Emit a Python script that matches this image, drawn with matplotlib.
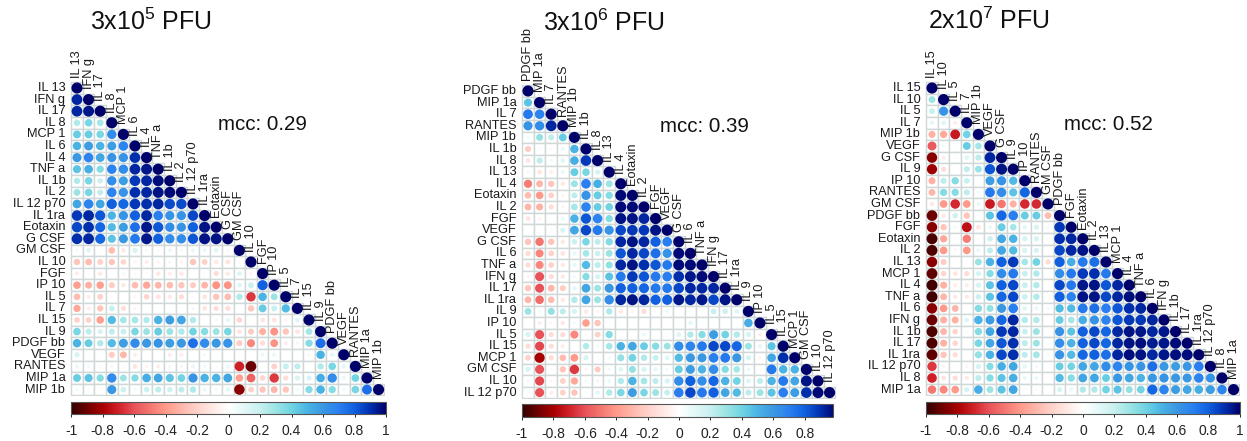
import matplotlib
matplotlib.use("Agg")
import numpy as np
import matplotlib.pyplot as plt
from matplotlib.collections import EllipseCollection, PatchCollection
from matplotlib.colors import LinearSegmentedColormap, Normalize
from matplotlib.cm import ScalarMappable
from matplotlib.patches import Rectangle

plt.rcParams['font.family'] = ['Liberation Sans', 'DejaVu Sans']
plt.rcParams['mathtext.fontset'] = 'custom'
plt.rcParams['mathtext.rm'] = 'Liberation Sans'
plt.rcParams['mathtext.default'] = 'regular'
plt.rcParams['axes.unicode_minus'] = False

titles = ["3x10$^{5}$ PFU", "3x10$^{6}$ PFU", "2x10$^{7}$ PFU"]
mcc_labels = ["mcc: 0.29", "mcc: 0.39", "mcc: 0.52"]

labels_a = ["IL 13", "IFN g", "IL 17", "IL 8", "MCP 1", "IL 6", "IL 4", "TNF a", "IL 1b", "IL 2",
            "IL 12 p70", "IL 1ra", "Eotaxin", "G CSF", "GM CSF", "IL 10", "FGF", "IP 10", "IL 5",
            "IL 7", "IL 15", "IL 9", "PDGF bb", "VEGF", "RANTES", "MIP 1a", "MIP 1b"]
labels_b = ["PDGF bb", "MIP 1a", "IL 7", "RANTES", "MIP 1b", "IL 1b", "IL 8", "IL 13", "IL 4",
            "Eotaxin", "IL 2", "FGF", "VEGF", "G CSF", "IL 6", "TNF a", "IFN g", "IL 17", "IL 1ra",
            "IL 9", "IP 10", "IL 5", "IL 15", "MCP 1", "GM CSF", "IL 10", "IL 12 p70"]
labels_c = ["IL 15", "IL 10", "IL 5", "IL 7", "MIP 1b", "VEGF", "G CSF", "IL 9", "IP 10", "RANTES",
            "GM CSF", "PDGF bb", "FGF", "Eotaxin", "IL 2", "IL 13", "MCP 1", "IL 4", "TNF a", "IL 6",
            "IFN g", "IL 1b", "IL 17", "IL 1ra", "IL 12 p70", "IL 8", "MIP 1a"]

# correlation x 100, lower triangle, row by row
corr_a = [
 [100],
 [92,100],
 [92,95,100],
 [25,38,28,100],
 [42,42,38,65,100],
 [50,58,50,58,68,100],
 [60,68,55,62,62,90,100],
 [45,52,35,68,65,92,95,100],
 [25,38,18,65,58,88,92,97,100],
 [30,38,22,68,62,90,92,96,98,100],
 [55,68,55,80,78,88,90,92,84,84,100],
 [88,92,82,50,62,80,92,70,62,62,85,100],
 [85,90,78,48,58,75,95,82,65,62,80,96,100],
 [90,92,78,45,60,72,95,80,65,65,82,96,96,100],
 [5,12,3,-28,-10,15,5,3,8,5,8,8,12,5,100],
 [-25,-28,-20,-25,-18,-5,-8,-5,-5,-5,-25,-20,-10,-12,-3,100],
 [-8,3,-10,2,5,3,-3,-10,-8,-10,0,3,-15,-10,12,-5,100],
 [-38,-32,-38,-22,-10,-28,-35,-30,-28,-25,-22,-30,-42,-42,12,20,80,100],
 [-28,-8,-20,-2,0,-5,-18,-12,-10,-15,-2,-12,-25,-28,25,-65,50,30,100],
 [-35,-8,-25,20,-15,-5,0,0,0,0,5,-12,-15,-15,0,-25,42,20,48,100],
 [-20,-20,-38,48,28,28,25,50,58,55,25,2,5,10,-18,0,-12,-12,-5,12,100],
 [38,22,15,22,20,38,30,42,30,25,40,35,30,38,-12,-22,-32,-42,-25,-12,28,100],
 [50,42,25,48,58,65,60,62,58,60,75,65,60,62,-22,-45,-15,-42,-8,-5,35,75,100],
 [15,3,0,-22,-30,-8,0,0,-8,-8,0,5,3,0,3,0,8,8,0,0,-5,50,10,100],
 [8,5,3,5,3,-12,-5,-8,-5,-5,8,5,3,8,-70,-90,3,-20,20,22,0,25,38,10,100],
 [42,45,35,65,30,35,52,55,45,40,62,50,50,55,-38,-55,-18,-65,-15,15,15,52,65,8,40,100],
 [5,2,2,60,18,5,18,22,18,22,25,8,5,10,-85,-20,-25,-30,-25,5,35,50,35,5,38,75,100],
]
corr_b = [
 [100],
 [45,100],
 [72,68,100],
 [62,65,92,100],
 [5,32,22,42,100],
 [-22,3,-3,8,50,100],
 [-12,22,5,12,52,88,100],
 [5,-12,-8,8,42,38,15,100],
 [-48,-30,-25,-10,30,70,52,30,100],
 [-28,-40,-20,-5,22,62,42,35,98,100],
 [-30,-32,-15,-5,28,68,42,40,98,98,100],
 [-12,-5,0,8,50,82,68,35,96,96,92,100],
 [0,0,3,15,55,85,72,62,85,88,88,96,100],
 [-25,-50,-25,-10,18,38,22,35,92,96,92,80,70,100],
 [-15,-45,-20,-12,8,28,18,30,82,92,85,75,62,98,100],
 [-15,-45,-20,-10,10,48,22,32,92,96,90,82,72,98,98,100],
 [-5,-60,-15,-10,5,35,15,45,72,88,82,72,70,90,95,98,100],
 [-25,-60,-30,-22,10,55,30,60,80,80,78,72,72,85,92,92,92,100],
 [-30,-52,-28,-10,25,55,30,65,92,96,92,80,80,95,92,95,85,96,100],
 [30,5,32,22,15,-10,-5,25,-10,-5,-15,-2,8,0,3,3,20,18,12,100],
 [0,-8,-5,-10,5,-38,-25,3,-2,0,0,-2,0,3,10,3,0,0,0,52,100],
 [15,-60,-15,-15,-45,-3,-20,35,0,0,8,0,0,12,25,35,58,40,25,15,-8,100],
 [-15,-62,-15,-8,0,25,5,28,50,55,42,35,30,65,68,72,85,85,78,30,10,45,100],
 [-20,-80,-15,-28,-40,15,3,5,32,40,25,20,12,48,60,60,70,72,60,15,-5,55,90,100],
 [15,-60,-3,-25,-65,-5,-22,5,12,32,15,10,5,42,58,50,65,35,28,8,3,72,50,50,100],
 [5,-62,-5,-20,-35,5,-5,8,25,50,28,22,15,65,80,65,78,50,40,12,22,50,72,55,96,100],
 [3,-60,-8,-20,-25,3,10,25,38,58,38,30,20,70,85,72,80,55,48,22,30,45,70,58,90,98,100],
]
corr_c = [
 [100],
 [30,100],
 [20,62,100],
 [10,12,-8,100],
 [-32,-35,-72,40,100],
 [-58,5,3,42,28,100],
 [-85,-8,3,12,22,92,100],
 [-82,-15,0,22,30,82,96,100],
 [-32,22,35,20,0,58,62,48,100],
 [-30,35,35,22,5,72,65,45,78,100],
 [-10,-40,-68,-40,8,-72,-50,-32,-68,-68,100],
 [-90,-10,18,-25,0,45,78,70,42,42,-28,100],
 [-85,-25,5,-75,-12,8,42,28,10,15,5,88,100],
 [-96,-35,0,-48,3,18,55,50,15,15,3,90,92,100],
 [-95,-40,-4,-40,8,22,55,48,15,15,0,85,92,96,100],
 [-85,-22,0,-2,30,50,80,88,28,40,-15,80,52,72,75,100],
 [-92,-18,-12,-15,15,35,65,72,20,25,0,65,72,88,90,72,100],
 [-97,-32,-8,-8,15,45,80,85,20,25,0,85,72,95,96,82,92,100],
 [-97,-30,-10,-10,18,45,78,85,18,25,0,80,68,96,96,85,92,97,100],
 [-85,-40,-30,0,35,32,60,70,12,8,5,48,48,72,75,70,82,90,92,100],
 [-90,-32,-32,12,50,58,78,92,25,25,0,42,28,52,62,68,82,88,88,92,100],
 [-95,-30,-18,3,35,55,88,92,20,30,3,62,45,80,85,78,92,96,95,92,95,100],
 [-95,-32,-18,0,38,55,82,90,22,30,3,65,50,80,85,78,92,96,97,94,95,98,100],
 [-92,-25,-15,0,32,50,85,90,22,28,5,62,48,78,80,75,92,97,96,92,95,97,97,100],
 [-65,-5,0,-5,15,35,52,55,10,5,0,42,40,55,55,65,68,62,62,75,60,58,60,70,100],
 [-70,-12,-15,-10,22,35,45,52,8,8,0,48,35,55,55,42,60,55,50,60,62,60,60,68,62,100],
 [-50,-45,-40,15,52,30,45,55,3,-3,0,15,8,25,25,40,45,32,40,78,68,58,55,52,58,68,100],
]
cbar_ticks = [-1, -0.8, -0.6, -0.4, -0.2, 0, 0.2, 0.4, 0.6, 0.8, 1]
cbar_text = ["-1", "-0.8", "-0.6", "-0.4", "-0.2", "0", "0.2", "0.4", "0.6", "0.8", "1"]

W, H = 1247, 441
fig = plt.figure(figsize=(W / 100, H / 100), dpi=100)

stops = [(0.0, "#330000"), (0.1, "#a80000"), (0.15, "#d02028"), (0.2, "#e85258"), (0.3, "#ff9a8a"),
         (0.4, "#ffd2ca"), (0.5, "#ffffff"), (0.6, "#c8f0f0"), (0.65, "#9ce4e4"), (0.7, "#70d4e2"),
         (0.75, "#4ab4e4"), (0.8, "#3a98e2"), (0.85, "#2a80f0"), (0.9, "#1060e0"),
         (0.95, "#0030b0"), (1.0, "#00006a")]
cmap = LinearSegmentedColormap.from_list("corr", stops, N=512)
norm = Normalize(-1, 1)


def box(left, top, right, bottom):
    return [left / W, 1 - bottom / H, (right - left) / W, (bottom - top) / H]


def draw_panel(labels, corr, cx0, cy0, bar, bar_max, title, title_xy, mcc, mcc_xy):
    cell = 11.6
    n = len(labels)
    ax = fig.add_axes(box(cx0 - cell / 2 - 1, cy0 - cell / 2 - 1,
                          cx0 + (n - .5) * cell + 1, cy0 + (n - .5) * cell + 1))
    pad = 1 / cell
    ax.set_xlim(-.5 - pad, n - .5 + pad)
    ax.set_ylim(n - .5 + pad, -.5 - pad)
    ax.axis("off")

    rects, xs, ys, vals = [], [], [], []
    for r, row in enumerate(corr):
        for c, v in enumerate(row):
            rects.append(Rectangle((c - .5, r - .5), 1, 1))
            xs.append(c)
            ys.append(r)
            vals.append(v / 100)
    vals = np.array(vals)
    ax.add_collection(PatchCollection(rects, facecolor="white", edgecolor="#cfd7d7", linewidth=1.0))
    d = 0.96 * np.abs(vals) ** 0.4
    ax.add_collection(EllipseCollection(d, d, np.zeros_like(d), units="xy",
                                        offsets=np.column_stack([xs, ys]),
                                        offset_transform=ax.transData,
                                        array=vals, cmap=cmap, norm=norm, linewidths=0))
    for i, name in enumerate(labels):
        ax.annotate(name, (-.5, i), xytext=(-4.2, 0), textcoords="offset points",
                    ha="right", va="center", fontsize=9.2, color="#1a1a1a", annotation_clip=False)
        ax.annotate(name, (i, i - .5), xytext=(0, 3.2), textcoords="offset points",
                    ha="center", va="bottom", rotation=90, fontsize=9.2, color="#1a1a1a",
                    annotation_clip=False)

    cax = fig.add_axes(box(*bar))
    sm = ScalarMappable(norm=Normalize(-1, 1), cmap=cmap)
    cb = fig.colorbar(sm, cax=cax, orientation="horizontal")
    cax.set_xlim(-1, bar_max)
    shown = [(t, s) for t, s in zip(cbar_ticks, cbar_text) if t <= bar_max]
    cb.set_ticks([t for t, _ in shown], labels=[s for _, s in shown])
    cax.tick_params(length=2, width=.7, pad=5, labelsize=10, colors="#222222")
    cb.outline.set_edgecolor("#555555")
    cb.outline.set_linewidth(.8)

    fig.text(title_xy[0] / W, 1 - title_xy[1] / H, title, fontsize=18, ha="left", va="center",
             color="#111111")
    fig.text(mcc_xy[0] / W, 1 - mcc_xy[1] / H, mcc, fontsize=14.8, ha="left", va="center",
             color="#111111")


draw_panel(labels_a, corr_a, 77, 88, (71, 402, 386, 414), 1, titles[0], (90, 22), mcc_labels[0], (218, 124))
draw_panel(labels_b, corr_b, 528, 91, (522, 404, 833, 417), 0.98, titles[1], (543, 23), mcc_labels[1], (660, 127))
draw_panel(labels_c, corr_c, 932, 88, (926, 402, 1240, 414), 1, titles[2], (928, 21), mcc_labels[2], (1064, 124))

fig.savefig("out.png", dpi=100)
